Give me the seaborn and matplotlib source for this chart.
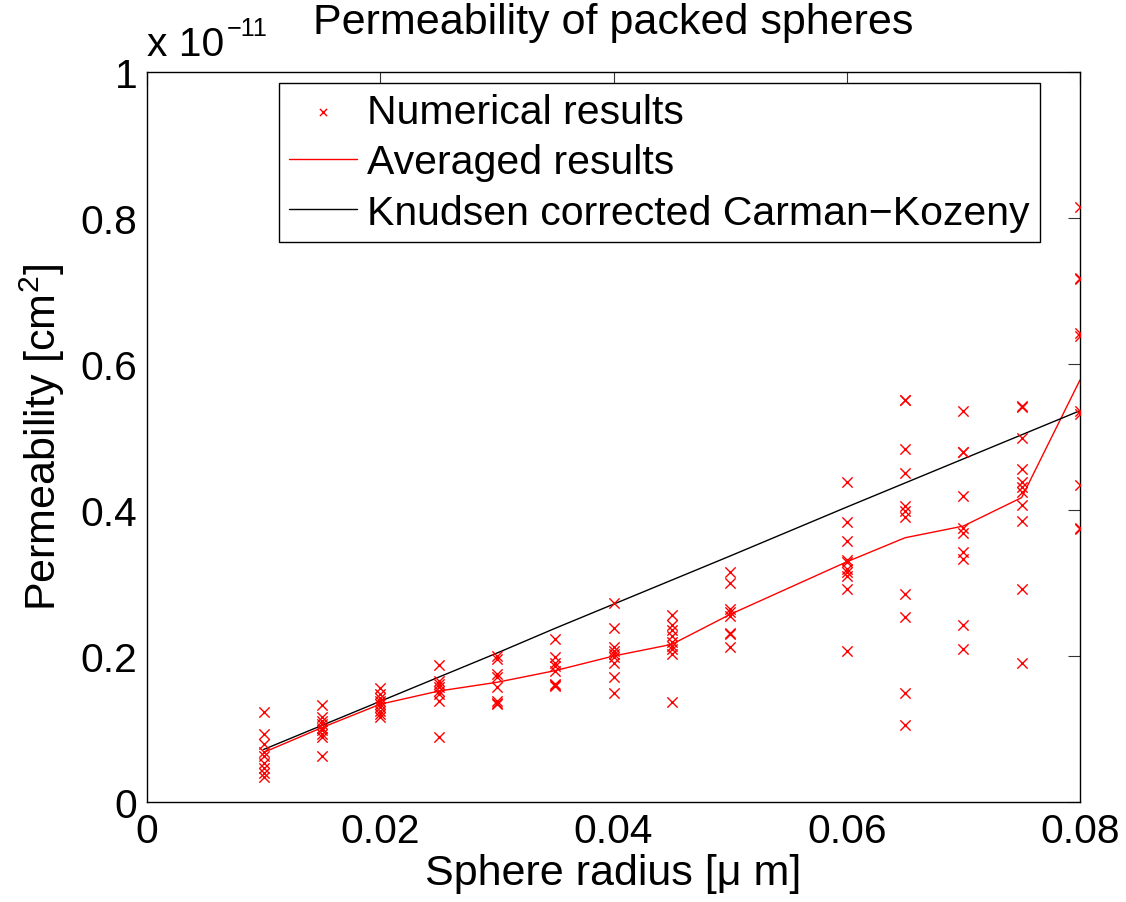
import matplotlib
matplotlib.use("Agg")
import matplotlib.pyplot as plt
import matplotlib.ticker as mticker
from matplotlib import font_manager
import numpy as np
import pandas as pd
import seaborn as sns

# ---- data (permeability in units of 1e-11 cm^2) ----
radius_levels = [0.01, 0.015, 0.02, 0.025, 0.03, 0.035, 0.04, 0.045, 0.05,
                 0.06, 0.065, 0.07, 0.075, 0.08]
num_r010 = [0.123, 0.093, 0.079, 0.068, 0.063, 0.054, 0.047, 0.040, 0.034]
num_r015 = [0.133, 0.116, 0.111, 0.107, 0.102, 0.098, 0.093, 0.089, 0.063]
num_r020 = [0.156, 0.148, 0.143, 0.139, 0.134, 0.130, 0.125, 0.121, 0.116]
num_r025 = [0.188, 0.166, 0.162, 0.157, 0.152, 0.148, 0.139, 0.089]
num_r030 = [0.200, 0.196, 0.175, 0.171, 0.157, 0.139, 0.134, 0.136]
num_r035 = [0.224, 0.198, 0.191, 0.187, 0.180, 0.162, 0.159, 0.160]
num_r040 = [0.272, 0.238, 0.212, 0.207, 0.203, 0.198, 0.191, 0.171, 0.150]
num_r045 = [0.256, 0.242, 0.235, 0.228, 0.219, 0.214, 0.210, 0.203, 0.137]
num_r050 = [0.315, 0.300, 0.264, 0.260, 0.255, 0.232, 0.230, 0.212]
num_r060 = [0.439, 0.383, 0.357, 0.332, 0.329, 0.319, 0.315, 0.309, 0.292, 0.207]
num_r065 = [0.550, 0.551, 0.483, 0.451, 0.405, 0.399, 0.391, 0.285, 0.254, 0.150, 0.105]
num_r070 = [0.536, 0.479, 0.480, 0.419, 0.376, 0.369, 0.342, 0.333, 0.242, 0.209]
num_r075 = [0.541, 0.542, 0.498, 0.456, 0.439, 0.431, 0.424, 0.407, 0.385, 0.292, 0.190]
num_r080 = [0.815, 0.717, 0.718, 0.643, 0.639, 0.536, 0.532, 0.434, 0.375, 0.374]
averaged_results = [0.068, 0.102, 0.134, 0.152, 0.164, 0.180, 0.200, 0.216, 0.257,
                    0.329, 0.362, 0.378, 0.417, 0.578]
knudsen_ck = [0.072, 0.105, 0.138, 0.171, 0.204, 0.238, 0.271, 0.304, 0.337,
              0.404, 0.437, 0.470, 0.503, 0.536]

x_ticks = [0, 0.02, 0.04, 0.06, 0.08]
y_ticks = [0, 0.2, 0.4, 0.6, 0.8, 1.0]

numerical = [num_r010, num_r015, num_r020, num_r025, num_r030, num_r035, num_r040,
             num_r045, num_r050, num_r060, num_r065, num_r070, num_r075, num_r080]
num_df = pd.DataFrame({
    "radius": [r for r, vals in zip(radius_levels, numerical) for _ in vals],
    "perm": [v for vals in numerical for v in vals],
})
avg_df = pd.DataFrame({"radius": radius_levels, "perm": averaged_results})
ck_df = pd.DataFrame({"radius": radius_levels, "perm": knudsen_ck})

sns.set_style("white")

names = {f.name for f in font_manager.fontManager.ttflist}
if "Liberation Sans Narrow" in names:
    fam = "Liberation Sans Narrow"
    k = 1.0 / 0.82
else:
    fam = "Liberation Sans"
    k = 1.0
plt.rcParams["font.family"] = [fam, "DejaVu Sans"]
plt.rcParams["mathtext.fontset"] = "custom"
plt.rcParams["mathtext.rm"] = fam
plt.rcParams["mathtext.it"] = fam + ":italic"
for key in ["text.color", "axes.labelcolor", "xtick.color", "ytick.color"]:
    plt.rcParams[key] = "black"

fs_tick = 29.3 * k
fs_leg = 29.5 * k
fs_lab = 31 * k

fig = plt.figure(figsize=(11.26, 9.03), dpi=100)
ax = fig.add_axes([0.1306, 0.1107, 0.8285, 0.8085])

sns.scatterplot(data=num_df, x="radius", y="perm", ax=ax, marker="x", color="red",
                s=55, linewidth=1.0, label="Numerical results", zorder=3)
sns.lineplot(data=avg_df, x="radius", y="perm", ax=ax, color="red", linewidth=1.0,
             label="Averaged results", zorder=2)
sns.lineplot(data=ck_df, x="radius", y="perm", ax=ax, color="black", linewidth=1.0,
             label="Knudsen corrected Carman\u2212Kozeny", zorder=2)

ax.set_xlim(0, 0.08)
ax.set_ylim(0, 1)
ax.set_xticks(x_ticks)
ax.set_yticks(y_ticks)
fmt = mticker.FuncFormatter(lambda v, p: f"{v:g}")
ax.xaxis.set_major_formatter(fmt)
ax.yaxis.set_major_formatter(fmt)
ax.tick_params(direction="in", length=9, width=0.8, top=True, right=True,
               labelsize=fs_tick, pad=7, color="#333333")
for s in ax.spines.values():
    s.set_linewidth(1.0)
    s.set_color("black")

ax.set_xlabel("Sphere radius [\u03bc m]", fontsize=fs_lab, labelpad=2)
ax.set_ylabel("Permeability [cm$^2$]", fontsize=fs_lab, labelpad=10)
ax.set_title("Permeability of packed spheres", fontsize=fs_lab, pad=28)
ax.text(0.0, 1.012, "x 10", transform=ax.transAxes, fontsize=fs_tick,
        ha="left", va="bottom")
ax.text(0.085, 1.044, "\u221211", transform=ax.transAxes, fontsize=fs_tick * 0.62,
        ha="left", va="bottom")

leg = ax.legend(loc="upper right", bbox_to_anchor=(0.957, 0.985), fontsize=fs_leg,
                frameon=True, fancybox=False, framealpha=1, edgecolor="black",
                borderpad=0.25, labelspacing=0.3, handlelength=1.65,
                handletextpad=0.25, borderaxespad=0, markerscale=0.7)
leg.get_frame().set_linewidth(1.0)

fig.savefig("out.png", dpi=100)
